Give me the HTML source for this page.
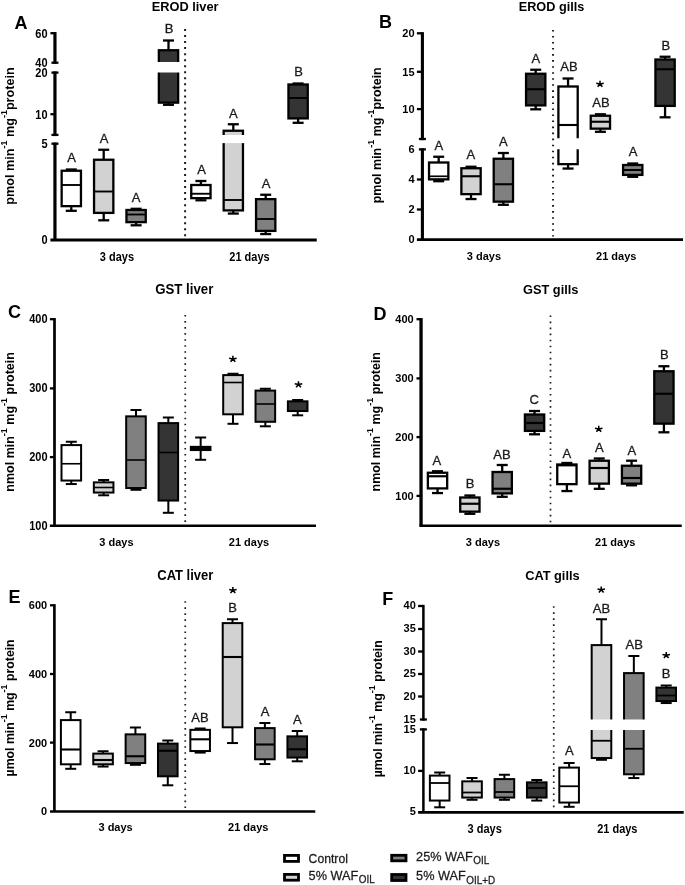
<!DOCTYPE html>
<html>
<head>
<meta charset="utf-8">
<title>Figure</title>
<style>
html,body{margin:0;padding:0;background:#fff;}
body{width:685px;height:885px;overflow:hidden;}
svg{display:block;font-family:"Liberation Sans",sans-serif;will-change:transform;}
svg line{stroke:#000;}
</style>
</head>
<body>
<svg width="685" height="885" viewBox="0 0 685 885">
<rect x="0" y="0" width="685" height="885" fill="#fff"/>
<line x1="54.95" y1="32.05" x2="54.95" y2="63.85" stroke-width="3.2" />
<line x1="50.4" y1="33.2" x2="54.95" y2="33.2" stroke-width="2.3" />
<text transform="translate(47.5,37.51) scale(1,1.14)" font-size="11" font-weight="bold" text-anchor="end" fill="#000" >60</text>
<line x1="51.45" y1="62.7" x2="58.45" y2="62.7" stroke-width="2.3" />
<text transform="translate(47.5,67.01) scale(1,1.14)" font-size="11" font-weight="bold" text-anchor="end" fill="#000" >40</text>
<line x1="54.95" y1="71.45" x2="54.95" y2="136.05" stroke-width="3.2" />
<line x1="51.45" y1="72.6" x2="58.45" y2="72.6" stroke-width="2.3" />
<text transform="translate(47.5,76.91) scale(1,1.14)" font-size="11" font-weight="bold" text-anchor="end" fill="#000" >20</text>
<line x1="50.4" y1="114.2" x2="54.95" y2="114.2" stroke-width="2.3" />
<text transform="translate(47.5,118.51) scale(1,1.14)" font-size="11" font-weight="bold" text-anchor="end" fill="#000" >10</text>
<line x1="51.45" y1="134.9" x2="58.45" y2="134.9" stroke-width="2.3" />
<line x1="54.95" y1="142.55" x2="54.95" y2="239.9" stroke-width="3.2" />
<line x1="51.45" y1="143.7" x2="58.45" y2="143.7" stroke-width="2.3" />
<text transform="translate(47.5,148.01) scale(1,1.14)" font-size="11" font-weight="bold" text-anchor="end" fill="#000" >5</text>
<text transform="translate(47.5,244.21) scale(1,1.14)" font-size="11" font-weight="bold" text-anchor="end" fill="#000" >0</text>
<line x1="50.4" y1="240" x2="316.75" y2="240" stroke-width="3" />
<line x1="71.3" y1="169.5" x2="71.3" y2="170.6" stroke-width="2.3" />
<line x1="65.8" y1="169.5" x2="76.8" y2="169.5" stroke-width="2.3" />
<line x1="71.3" y1="206.3" x2="71.3" y2="210.8" stroke-width="2.3" />
<line x1="65.8" y1="210.8" x2="76.8" y2="210.8" stroke-width="2.3" />
<rect x="61.65" y="170.75" width="19.3" height="35.4" fill="#ffffff" stroke="#000" stroke-width="2.3"/>
<line x1="61.5" y1="185" x2="81.1" y2="185" stroke-width="1.9" />
<line x1="103.7" y1="149.75" x2="103.7" y2="159.6" stroke-width="2.3" />
<line x1="98.2" y1="149.75" x2="109.2" y2="149.75" stroke-width="2.3" />
<line x1="103.7" y1="213.05" x2="103.7" y2="220.3" stroke-width="2.3" />
<line x1="98.2" y1="220.3" x2="109.2" y2="220.3" stroke-width="2.3" />
<rect x="94.05" y="159.75" width="19.3" height="53.15" fill="#d2d2d2" stroke="#000" stroke-width="2.3"/>
<line x1="93.9" y1="191.5" x2="113.5" y2="191.5" stroke-width="1.9" />
<line x1="136.1" y1="208.8" x2="136.1" y2="209.85" stroke-width="2.3" />
<line x1="130.6" y1="208.8" x2="141.6" y2="208.8" stroke-width="2.3" />
<line x1="136.1" y1="222.3" x2="136.1" y2="225.3" stroke-width="2.3" />
<line x1="130.6" y1="225.3" x2="141.6" y2="225.3" stroke-width="2.3" />
<rect x="126.45" y="210" width="19.3" height="12.15" fill="#808080" stroke="#000" stroke-width="2.3"/>
<line x1="126.3" y1="214.5" x2="145.9" y2="214.5" stroke-width="1.9" />
<line x1="168.5" y1="40.5" x2="168.5" y2="50.1" stroke-width="2.3" />
<line x1="163" y1="40.5" x2="174" y2="40.5" stroke-width="2.3" />
<line x1="168.5" y1="102.8" x2="168.5" y2="104.8" stroke-width="2.3" />
<line x1="163" y1="104.8" x2="174" y2="104.8" stroke-width="2.3" />
<rect x="158.85" y="50.25" width="19.3" height="52.4" fill="#343434" stroke="#000" stroke-width="2.3"/>
<rect x="156.7" y="62" width="23.6" height="10.5" fill="#fff" stroke="none"/>
<line x1="200.9" y1="181" x2="200.9" y2="184.85" stroke-width="2.3" />
<line x1="195.4" y1="181" x2="206.4" y2="181" stroke-width="2.3" />
<line x1="200.9" y1="198.3" x2="200.9" y2="200.3" stroke-width="2.3" />
<line x1="195.4" y1="200.3" x2="206.4" y2="200.3" stroke-width="2.3" />
<rect x="191.25" y="185" width="19.3" height="13.15" fill="#ffffff" stroke="#000" stroke-width="2.3"/>
<line x1="191.1" y1="193.75" x2="210.7" y2="193.75" stroke-width="1.9" />
<line x1="233.3" y1="124.25" x2="233.3" y2="130.6" stroke-width="2.3" />
<line x1="227.8" y1="124.25" x2="238.8" y2="124.25" stroke-width="2.3" />
<line x1="233.3" y1="210.55" x2="233.3" y2="213.55" stroke-width="2.3" />
<line x1="227.8" y1="213.55" x2="238.8" y2="213.55" stroke-width="2.3" />
<rect x="223.65" y="130.75" width="19.3" height="79.65" fill="#d2d2d2" stroke="#000" stroke-width="2.3"/>
<line x1="223.5" y1="200" x2="243.1" y2="200" stroke-width="1.9" />
<rect x="221.5" y="135" width="23.6" height="8.1" fill="#fff" stroke="none"/>
<line x1="265.7" y1="194.75" x2="265.7" y2="199" stroke-width="2.3" />
<line x1="260.2" y1="194.75" x2="271.2" y2="194.75" stroke-width="2.3" />
<line x1="265.7" y1="231.05" x2="265.7" y2="234.05" stroke-width="2.3" />
<line x1="260.2" y1="234.05" x2="271.2" y2="234.05" stroke-width="2.3" />
<rect x="256.05" y="199.15" width="19.3" height="31.75" fill="#808080" stroke="#000" stroke-width="2.3"/>
<line x1="255.9" y1="219" x2="275.5" y2="219" stroke-width="1.9" />
<line x1="298.1" y1="83.5" x2="298.1" y2="84.35" stroke-width="2.3" />
<line x1="292.6" y1="83.5" x2="303.6" y2="83.5" stroke-width="2.3" />
<line x1="298.1" y1="118.55" x2="298.1" y2="122.8" stroke-width="2.3" />
<line x1="292.6" y1="122.8" x2="303.6" y2="122.8" stroke-width="2.3" />
<rect x="288.45" y="84.5" width="19.3" height="33.9" fill="#343434" stroke="#000" stroke-width="2.3"/>
<line x1="288.3" y1="98" x2="307.9" y2="98" stroke-width="1.9" />
<line x1="185.1" y1="29" x2="185.1" y2="236.5" stroke-width="2" stroke-dasharray="2 4.04" style="stroke:#1c1c1c"/>
<text transform="translate(169,32.7) scale(1,1.0)" font-size="13" font-weight="normal" text-anchor="middle" fill="#1a1a1a" stroke="#1a1a1a" stroke-width="0.3">B</text>
<text transform="translate(71.6,162) scale(1,1.0)" font-size="13" font-weight="normal" text-anchor="middle" fill="#1a1a1a" stroke="#1a1a1a" stroke-width="0.3">A</text>
<text transform="translate(104.2,143) scale(1,1.0)" font-size="13" font-weight="normal" text-anchor="middle" fill="#1a1a1a" stroke="#1a1a1a" stroke-width="0.3">A</text>
<text transform="translate(136.2,202.2) scale(1,1.0)" font-size="13" font-weight="normal" text-anchor="middle" fill="#1a1a1a" stroke="#1a1a1a" stroke-width="0.3">A</text>
<text transform="translate(201.5,174.25) scale(1,1.0)" font-size="13" font-weight="normal" text-anchor="middle" fill="#1a1a1a" stroke="#1a1a1a" stroke-width="0.3">A</text>
<text transform="translate(233.4,117.75) scale(1,1.0)" font-size="13" font-weight="normal" text-anchor="middle" fill="#1a1a1a" stroke="#1a1a1a" stroke-width="0.3">A</text>
<text transform="translate(266,188) scale(1,1.0)" font-size="13" font-weight="normal" text-anchor="middle" fill="#1a1a1a" stroke="#1a1a1a" stroke-width="0.3">A</text>
<text transform="translate(298.5,75.75) scale(1,1.0)" font-size="13" font-weight="normal" text-anchor="middle" fill="#1a1a1a" stroke="#1a1a1a" stroke-width="0.3">B</text>
<text transform="translate(185.1,10.5) scale(1,1.07)" font-size="12.8" font-weight="bold" text-anchor="middle" fill="#000" >EROD liver</text>
<text transform="translate(116.9,260.55) scale(1,1.09)" font-size="11" font-weight="bold" text-anchor="middle" fill="#000" >3 days</text>
<text transform="translate(249.5,260.55) scale(1,1.09)" font-size="11" font-weight="bold" text-anchor="middle" fill="#000" >21 days</text>
<text transform="translate(14.6,28.8) scale(1,1.0)" font-size="18" font-weight="bold" text-anchor="start" fill="#000" >A</text>
<text transform="translate(14.3,136) rotate(-90) scale(1,1.03)" font-size="12.65" font-weight="bold" text-anchor="middle" fill="#000">pmol min<tspan font-size="9" dy="-6.8">-1</tspan><tspan dy="6.8"> mg</tspan><tspan font-size="9" dy="-6.8">-1</tspan><tspan dy="6.8">protein</tspan></text>
<line x1="422.4" y1="32.15" x2="422.4" y2="140.15" stroke-width="3.1" />
<line x1="416.9" y1="33.3" x2="422.4" y2="33.3" stroke-width="2.3" />
<text transform="translate(414.6,37.08) scale(1,1.0)" font-size="11" font-weight="bold" text-anchor="end" fill="#000" >20</text>
<line x1="416.9" y1="71.8" x2="422.4" y2="71.8" stroke-width="2.3" />
<text transform="translate(414.6,75.58) scale(1,1.0)" font-size="11" font-weight="bold" text-anchor="end" fill="#000" >15</text>
<line x1="416.9" y1="109.1" x2="422.4" y2="109.1" stroke-width="2.3" />
<text transform="translate(414.6,112.88) scale(1,1.0)" font-size="11" font-weight="bold" text-anchor="end" fill="#000" >10</text>
<line x1="418.9" y1="139" x2="425.9" y2="139" stroke-width="2.3" />
<line x1="422.4" y1="148.25" x2="422.4" y2="239.6" stroke-width="3.1" />
<line x1="418.9" y1="149.4" x2="425.9" y2="149.4" stroke-width="2.3" />
<text transform="translate(414.6,153.18) scale(1,1.0)" font-size="11" font-weight="bold" text-anchor="end" fill="#000" >6</text>
<line x1="416.9" y1="179.5" x2="422.4" y2="179.5" stroke-width="2.3" />
<text transform="translate(414.6,183.28) scale(1,1.0)" font-size="11" font-weight="bold" text-anchor="end" fill="#000" >4</text>
<line x1="416.9" y1="209.5" x2="422.4" y2="209.5" stroke-width="2.3" />
<text transform="translate(414.6,213.28) scale(1,1.0)" font-size="11" font-weight="bold" text-anchor="end" fill="#000" >2</text>
<text transform="translate(414.6,243.38) scale(1,1.0)" font-size="11" font-weight="bold" text-anchor="end" fill="#000" >0</text>
<line x1="416.9" y1="239.6" x2="683" y2="239.6" stroke-width="2.6" />
<line x1="438.69" y1="156.75" x2="438.69" y2="162.35" stroke-width="2.3" />
<line x1="433.19" y1="156.75" x2="444.19" y2="156.75" stroke-width="2.3" />
<line x1="438.69" y1="179.5" x2="438.69" y2="181.2" stroke-width="2.3" />
<line x1="433.19" y1="181.2" x2="444.19" y2="181.2" stroke-width="2.3" />
<rect x="429.04" y="162.5" width="19.3" height="16.85" fill="#ffffff" stroke="#000" stroke-width="2.3"/>
<line x1="428.89" y1="176.3" x2="448.49" y2="176.3" stroke-width="1.7" />
<line x1="471.03" y1="166.75" x2="471.03" y2="168.1" stroke-width="2.3" />
<line x1="465.53" y1="166.75" x2="476.53" y2="166.75" stroke-width="2.3" />
<line x1="471.03" y1="194.3" x2="471.03" y2="199.05" stroke-width="2.3" />
<line x1="465.53" y1="199.05" x2="476.53" y2="199.05" stroke-width="2.3" />
<rect x="461.38" y="168.25" width="19.3" height="25.9" fill="#d2d2d2" stroke="#000" stroke-width="2.3"/>
<line x1="461.23" y1="176.25" x2="480.83" y2="176.25" stroke-width="2.1" />
<line x1="503.37" y1="153" x2="503.37" y2="158.6" stroke-width="2.3" />
<line x1="497.87" y1="153" x2="508.87" y2="153" stroke-width="2.3" />
<line x1="503.37" y1="201.8" x2="503.37" y2="204.8" stroke-width="2.3" />
<line x1="497.87" y1="204.8" x2="508.87" y2="204.8" stroke-width="2.3" />
<rect x="493.72" y="158.75" width="19.3" height="42.9" fill="#808080" stroke="#000" stroke-width="2.3"/>
<line x1="493.57" y1="184.25" x2="513.17" y2="184.25" stroke-width="2.1" />
<line x1="535.71" y1="69.75" x2="535.71" y2="73.6" stroke-width="2.3" />
<line x1="530.21" y1="69.75" x2="541.21" y2="69.75" stroke-width="2.3" />
<line x1="535.71" y1="105.55" x2="535.71" y2="109.3" stroke-width="2.3" />
<line x1="530.21" y1="109.3" x2="541.21" y2="109.3" stroke-width="2.3" />
<rect x="526.06" y="73.75" width="19.3" height="31.65" fill="#343434" stroke="#000" stroke-width="2.3"/>
<line x1="525.91" y1="89.25" x2="545.51" y2="89.25" stroke-width="2.1" />
<line x1="568.05" y1="78.5" x2="568.05" y2="86.35" stroke-width="2.3" />
<line x1="562.55" y1="78.5" x2="573.55" y2="78.5" stroke-width="2.3" />
<line x1="568.05" y1="164.3" x2="568.05" y2="168.55" stroke-width="2.3" />
<line x1="562.55" y1="168.55" x2="573.55" y2="168.55" stroke-width="2.3" />
<rect x="558.4" y="86.5" width="19.3" height="77.65" fill="#ffffff" stroke="#000" stroke-width="2.3"/>
<line x1="558.25" y1="125" x2="577.85" y2="125" stroke-width="2.1" />
<rect x="556.25" y="138.25" width="23.6" height="11" fill="#fff" stroke="none"/>
<line x1="600.39" y1="114.25" x2="600.39" y2="115.6" stroke-width="2.3" />
<line x1="594.89" y1="114.25" x2="605.89" y2="114.25" stroke-width="2.3" />
<line x1="600.39" y1="128.8" x2="600.39" y2="131.8" stroke-width="2.3" />
<line x1="594.89" y1="131.8" x2="605.89" y2="131.8" stroke-width="2.3" />
<rect x="590.74" y="115.75" width="19.3" height="12.9" fill="#d2d2d2" stroke="#000" stroke-width="2.3"/>
<line x1="590.59" y1="121.75" x2="610.19" y2="121.75" stroke-width="2.1" />
<line x1="632.73" y1="163.5" x2="632.73" y2="164.85" stroke-width="2.3" />
<line x1="627.23" y1="163.5" x2="638.23" y2="163.5" stroke-width="2.3" />
<line x1="632.73" y1="175.05" x2="632.73" y2="176.8" stroke-width="2.3" />
<line x1="627.23" y1="176.8" x2="638.23" y2="176.8" stroke-width="2.3" />
<rect x="623.08" y="165" width="19.3" height="9.9" fill="#808080" stroke="#000" stroke-width="2.3"/>
<line x1="622.93" y1="170" x2="642.53" y2="170" stroke-width="2.1" />
<line x1="665.07" y1="56.75" x2="665.07" y2="59.35" stroke-width="2.3" />
<line x1="659.57" y1="56.75" x2="670.57" y2="56.75" stroke-width="2.3" />
<line x1="665.07" y1="106.05" x2="665.07" y2="117.3" stroke-width="2.3" />
<line x1="659.57" y1="117.3" x2="670.57" y2="117.3" stroke-width="2.3" />
<rect x="655.42" y="59.5" width="19.3" height="46.4" fill="#343434" stroke="#000" stroke-width="2.3"/>
<line x1="655.27" y1="69.25" x2="674.87" y2="69.25" stroke-width="2.1" />
<line x1="553.05" y1="29.9" x2="553.05" y2="236.5" stroke-width="2" stroke-dasharray="1.6 4.44" style="stroke:#1c1c1c"/>
<text transform="translate(438.9,149.5) scale(1,1.0)" font-size="13" font-weight="normal" text-anchor="middle" fill="#1a1a1a" stroke="#1a1a1a" stroke-width="0.3">A</text>
<text transform="translate(470.9,159.25) scale(1,1.0)" font-size="13" font-weight="normal" text-anchor="middle" fill="#1a1a1a" stroke="#1a1a1a" stroke-width="0.3">A</text>
<text transform="translate(503.3,146.25) scale(1,1.0)" font-size="13" font-weight="normal" text-anchor="middle" fill="#1a1a1a" stroke="#1a1a1a" stroke-width="0.3">A</text>
<text transform="translate(535.9,62.5) scale(1,1.0)" font-size="13" font-weight="normal" text-anchor="middle" fill="#1a1a1a" stroke="#1a1a1a" stroke-width="0.3">A</text>
<text transform="translate(569,71.25) scale(1,1.0)" font-size="13" font-weight="normal" text-anchor="middle" fill="#1a1a1a" stroke="#1a1a1a" stroke-width="0.3">AB</text>
<text transform="translate(600.9,107) scale(1,1.0)" font-size="13" font-weight="normal" text-anchor="middle" fill="#1a1a1a" stroke="#1a1a1a" stroke-width="0.3">AB</text>
<text transform="translate(633,156.25) scale(1,1.0)" font-size="13" font-weight="normal" text-anchor="middle" fill="#1a1a1a" stroke="#1a1a1a" stroke-width="0.3">A</text>
<text transform="translate(665.75,49.5) scale(1,1.0)" font-size="13" font-weight="normal" text-anchor="middle" fill="#1a1a1a" stroke="#1a1a1a" stroke-width="0.3">B</text>
<path d="M600 83.9L600 80.8M600 83.9L596.25 83.15M600 83.9L603.75 83.15M600 83.9L597.65 86.85M600 83.9L602.35 86.85" stroke="#000" stroke-width="1.55" fill="none" stroke-linecap="butt"/>
<text transform="translate(551.5,10.9) scale(1,1.07)" font-size="12.7" font-weight="bold" text-anchor="middle" fill="#000" >EROD gills</text>
<text transform="translate(483.9,259.7) scale(1,1.0)" font-size="11" font-weight="bold" text-anchor="middle" fill="#000" >3 days</text>
<text transform="translate(616.25,259.7) scale(1,1.0)" font-size="11" font-weight="bold" text-anchor="middle" fill="#000" >21 days</text>
<text transform="translate(378.9,27.6) scale(1,1.0)" font-size="18" font-weight="bold" text-anchor="start" fill="#000" >B</text>
<text transform="translate(381,135.25) rotate(-90) scale(1,1.03)" font-size="12.5" font-weight="bold" text-anchor="middle" fill="#000">pmol min<tspan font-size="9" dy="-6.8">-1</tspan><tspan dy="6.8"> mg</tspan><tspan font-size="9" dy="-6.8">-1</tspan><tspan dy="6.8">protein</tspan></text>
<line x1="54.5" y1="318.05" x2="54.5" y2="525.7" stroke-width="2.7" />
<line x1="49.9" y1="319.2" x2="54.5" y2="319.2" stroke-width="2.3" />
<text transform="translate(47.5,323.29) scale(1,1.08)" font-size="11" font-weight="bold" text-anchor="end" fill="#000" >400</text>
<line x1="49.9" y1="388.4" x2="54.5" y2="388.4" stroke-width="2.3" />
<text transform="translate(47.5,392.49) scale(1,1.08)" font-size="11" font-weight="bold" text-anchor="end" fill="#000" >300</text>
<line x1="49.9" y1="457.1" x2="54.5" y2="457.1" stroke-width="2.3" />
<text transform="translate(47.5,461.19) scale(1,1.08)" font-size="11" font-weight="bold" text-anchor="end" fill="#000" >200</text>
<text transform="translate(47.5,529.79) scale(1,1.08)" font-size="11" font-weight="bold" text-anchor="end" fill="#000" >100</text>
<line x1="49.9" y1="525.75" x2="316" y2="525.75" stroke-width="2.7" />
<line x1="71.3" y1="441.75" x2="71.3" y2="445.1" stroke-width="2" />
<line x1="65.8" y1="441.75" x2="76.8" y2="441.75" stroke-width="2" />
<line x1="71.3" y1="480.55" x2="71.3" y2="484.05" stroke-width="2" />
<line x1="65.8" y1="484.05" x2="76.8" y2="484.05" stroke-width="2" />
<rect x="61.5" y="445.1" width="19.6" height="35.45" fill="#ffffff" stroke="#000" stroke-width="2"/>
<line x1="61.5" y1="463.75" x2="81.1" y2="463.75" stroke-width="1.6" />
<line x1="103.64" y1="480" x2="103.64" y2="482.35" stroke-width="2" />
<line x1="98.14" y1="480" x2="109.14" y2="480" stroke-width="2" />
<line x1="103.64" y1="492.55" x2="103.64" y2="495.3" stroke-width="2" />
<line x1="98.14" y1="495.3" x2="109.14" y2="495.3" stroke-width="2" />
<rect x="93.84" y="482.35" width="19.6" height="10.2" fill="#d2d2d2" stroke="#000" stroke-width="2"/>
<line x1="93.84" y1="487.5" x2="113.44" y2="487.5" stroke-width="1.6" />
<line x1="135.98" y1="410" x2="135.98" y2="416.35" stroke-width="2" />
<line x1="130.48" y1="410" x2="141.48" y2="410" stroke-width="2" />
<line x1="135.98" y1="488.05" x2="135.98" y2="489.8" stroke-width="2" />
<line x1="130.48" y1="489.8" x2="141.48" y2="489.8" stroke-width="2" />
<rect x="126.18" y="416.35" width="19.6" height="71.7" fill="#808080" stroke="#000" stroke-width="2"/>
<line x1="126.18" y1="460" x2="145.78" y2="460" stroke-width="1.6" />
<line x1="168.32" y1="417.5" x2="168.32" y2="423.1" stroke-width="2" />
<line x1="162.82" y1="417.5" x2="173.82" y2="417.5" stroke-width="2" />
<line x1="168.32" y1="500.55" x2="168.32" y2="512.8" stroke-width="2" />
<line x1="162.82" y1="512.8" x2="173.82" y2="512.8" stroke-width="2" />
<rect x="158.52" y="423.1" width="19.6" height="77.45" fill="#343434" stroke="#000" stroke-width="2"/>
<line x1="158.52" y1="452.5" x2="178.12" y2="452.5" stroke-width="1.6" />
<line x1="200.66" y1="437.5" x2="200.66" y2="446.85" stroke-width="2" />
<line x1="195.16" y1="437.5" x2="206.16" y2="437.5" stroke-width="2" />
<line x1="200.66" y1="450.05" x2="200.66" y2="459.8" stroke-width="2" />
<line x1="195.16" y1="459.8" x2="206.16" y2="459.8" stroke-width="2" />
<rect x="190.86" y="446.85" width="19.6" height="3.2" fill="#000" stroke="#000" stroke-width="2"/>
<line x1="233" y1="373.75" x2="233" y2="375.1" stroke-width="2" />
<line x1="227.5" y1="373.75" x2="238.5" y2="373.75" stroke-width="2" />
<line x1="233" y1="414.3" x2="233" y2="423.8" stroke-width="2" />
<line x1="227.5" y1="423.8" x2="238.5" y2="423.8" stroke-width="2" />
<rect x="223.2" y="375.1" width="19.6" height="39.2" fill="#d2d2d2" stroke="#000" stroke-width="2"/>
<line x1="223.2" y1="382.5" x2="242.8" y2="382.5" stroke-width="1.6" />
<line x1="265.34" y1="388.75" x2="265.34" y2="390.6" stroke-width="2" />
<line x1="259.84" y1="388.75" x2="270.84" y2="388.75" stroke-width="2" />
<line x1="265.34" y1="421.8" x2="265.34" y2="426.3" stroke-width="2" />
<line x1="259.84" y1="426.3" x2="270.84" y2="426.3" stroke-width="2" />
<rect x="255.54" y="390.6" width="19.6" height="31.2" fill="#808080" stroke="#000" stroke-width="2"/>
<line x1="255.54" y1="404" x2="275.14" y2="404" stroke-width="1.6" />
<line x1="297.68" y1="400" x2="297.68" y2="401.35" stroke-width="2" />
<line x1="292.18" y1="400" x2="303.18" y2="400" stroke-width="2" />
<line x1="297.68" y1="411.05" x2="297.68" y2="415.3" stroke-width="2" />
<line x1="292.18" y1="415.3" x2="303.18" y2="415.3" stroke-width="2" />
<rect x="287.88" y="401.35" width="19.6" height="9.7" fill="#343434" stroke="#000" stroke-width="2"/>
<line x1="185.25" y1="315" x2="185.25" y2="522.3" stroke-width="1.7" stroke-dasharray="1.6 4.44" style="stroke:#1c1c1c"/>
<path d="M232.9 358.9L232.9 355.8M232.9 358.9L229.15 358.15M232.9 358.9L236.65 358.15M232.9 358.9L230.55 361.85M232.9 358.9L235.25 361.85" stroke="#000" stroke-width="1.55" fill="none" stroke-linecap="butt"/>
<path d="M298.5 384.4L298.5 381.3M298.5 384.4L294.75 383.65M298.5 384.4L302.25 383.65M298.5 384.4L296.15 387.35M298.5 384.4L300.85 387.35" stroke="#000" stroke-width="1.55" fill="none" stroke-linecap="butt"/>
<text transform="translate(184.2,293.6) scale(1,1.07)" font-size="13.25" font-weight="bold" text-anchor="middle" fill="#000" >GST liver</text>
<text transform="translate(116.4,545.85) scale(1,1.03)" font-size="11" font-weight="bold" text-anchor="middle" fill="#000" >3 days</text>
<text transform="translate(249,545.85) scale(1,1.03)" font-size="11" font-weight="bold" text-anchor="middle" fill="#000" >21 days</text>
<text transform="translate(8.1,318) scale(1,1.0)" font-size="18" font-weight="bold" text-anchor="start" fill="#000" >C</text>
<text transform="translate(14.3,421.9) rotate(-90) scale(1,1.03)" font-size="12.5" font-weight="bold" text-anchor="middle" fill="#000">nmol min<tspan font-size="9" dy="-6.8">-1</tspan><tspan dy="6.8"> mg</tspan><tspan font-size="9" dy="-6.8">-1</tspan><tspan dy="6.8"> protein</tspan></text>
<line x1="421.05" y1="318.05" x2="421.05" y2="525.7" stroke-width="3.3" />
<line x1="416.5" y1="319.2" x2="421.05" y2="319.2" stroke-width="2.3" />
<text transform="translate(413.7,323.25) scale(1,1.07)" font-size="11" font-weight="bold" text-anchor="end" fill="#000" >400</text>
<line x1="416.5" y1="378.4" x2="421.05" y2="378.4" stroke-width="2.3" />
<text transform="translate(413.7,382.45) scale(1,1.07)" font-size="11" font-weight="bold" text-anchor="end" fill="#000" >300</text>
<line x1="416.5" y1="437.1" x2="421.05" y2="437.1" stroke-width="2.3" />
<text transform="translate(413.7,441.15) scale(1,1.07)" font-size="11" font-weight="bold" text-anchor="end" fill="#000" >200</text>
<line x1="416.5" y1="495.9" x2="421.05" y2="495.9" stroke-width="2.3" />
<text transform="translate(413.7,499.95) scale(1,1.07)" font-size="11" font-weight="bold" text-anchor="end" fill="#000" >100</text>
<line x1="419.4" y1="525.7" x2="681.75" y2="525.7" stroke-width="2.6" />
<line x1="437.53" y1="471.25" x2="437.53" y2="472.6" stroke-width="2.3" />
<line x1="432.03" y1="471.25" x2="443.03" y2="471.25" stroke-width="2.3" />
<line x1="437.53" y1="488.55" x2="437.53" y2="493.05" stroke-width="2.3" />
<line x1="432.03" y1="493.05" x2="443.03" y2="493.05" stroke-width="2.3" />
<rect x="427.88" y="472.75" width="19.3" height="15.65" fill="#ffffff" stroke="#000" stroke-width="2.3"/>
<line x1="427.73" y1="476.25" x2="447.33" y2="476.25" stroke-width="2.2" />
<line x1="469.87" y1="495.5" x2="469.87" y2="497.35" stroke-width="2.3" />
<line x1="464.37" y1="495.5" x2="475.37" y2="495.5" stroke-width="2.3" />
<line x1="469.87" y1="511.8" x2="469.87" y2="513.8" stroke-width="2.3" />
<line x1="464.37" y1="513.8" x2="475.37" y2="513.8" stroke-width="2.3" />
<rect x="460.22" y="497.5" width="19.3" height="14.15" fill="#d2d2d2" stroke="#000" stroke-width="2.3"/>
<line x1="460.07" y1="503.75" x2="479.67" y2="503.75" stroke-width="2.2" />
<line x1="502.21" y1="465" x2="502.21" y2="471.85" stroke-width="2.3" />
<line x1="496.71" y1="465" x2="507.71" y2="465" stroke-width="2.3" />
<line x1="502.21" y1="493.55" x2="502.21" y2="496.8" stroke-width="2.3" />
<line x1="496.71" y1="496.8" x2="507.71" y2="496.8" stroke-width="2.3" />
<rect x="492.56" y="472" width="19.3" height="21.4" fill="#808080" stroke="#000" stroke-width="2.3"/>
<line x1="492.41" y1="488.75" x2="512.01" y2="488.75" stroke-width="2.2" />
<line x1="534.55" y1="411" x2="534.55" y2="414.35" stroke-width="2.3" />
<line x1="529.05" y1="411" x2="540.05" y2="411" stroke-width="2.3" />
<line x1="534.55" y1="431.05" x2="534.55" y2="434.3" stroke-width="2.3" />
<line x1="529.05" y1="434.3" x2="540.05" y2="434.3" stroke-width="2.3" />
<rect x="524.9" y="414.5" width="19.3" height="16.4" fill="#343434" stroke="#000" stroke-width="2.3"/>
<line x1="524.75" y1="423" x2="544.35" y2="423" stroke-width="2.2" />
<line x1="566.89" y1="463" x2="566.89" y2="464.35" stroke-width="2.3" />
<line x1="561.39" y1="463" x2="572.39" y2="463" stroke-width="2.3" />
<line x1="566.89" y1="484.3" x2="566.89" y2="491.05" stroke-width="2.3" />
<line x1="561.39" y1="491.05" x2="572.39" y2="491.05" stroke-width="2.3" />
<rect x="557.24" y="464.5" width="19.3" height="19.65" fill="#ffffff" stroke="#000" stroke-width="2.3"/>
<line x1="557.09" y1="465.3" x2="576.69" y2="465.3" stroke-width="2.2" />
<line x1="599.23" y1="458.5" x2="599.23" y2="460.6" stroke-width="2.3" />
<line x1="593.73" y1="458.5" x2="604.73" y2="458.5" stroke-width="2.3" />
<line x1="599.23" y1="483.8" x2="599.23" y2="488.8" stroke-width="2.3" />
<line x1="593.73" y1="488.8" x2="604.73" y2="488.8" stroke-width="2.3" />
<rect x="589.58" y="460.75" width="19.3" height="22.9" fill="#d2d2d2" stroke="#000" stroke-width="2.3"/>
<line x1="589.43" y1="468" x2="609.03" y2="468" stroke-width="2.2" />
<line x1="631.57" y1="460.7" x2="631.57" y2="465.6" stroke-width="2.3" />
<line x1="626.07" y1="460.7" x2="637.07" y2="460.7" stroke-width="2.3" />
<line x1="631.57" y1="483.8" x2="631.57" y2="485.3" stroke-width="2.3" />
<line x1="626.07" y1="485.3" x2="637.07" y2="485.3" stroke-width="2.3" />
<rect x="621.92" y="465.75" width="19.3" height="17.9" fill="#808080" stroke="#000" stroke-width="2.3"/>
<line x1="621.77" y1="478" x2="641.37" y2="478" stroke-width="2.2" />
<line x1="663.91" y1="366.25" x2="663.91" y2="371.1" stroke-width="2.3" />
<line x1="658.41" y1="366.25" x2="669.41" y2="366.25" stroke-width="2.3" />
<line x1="663.91" y1="423.8" x2="663.91" y2="432.3" stroke-width="2.3" />
<line x1="658.41" y1="432.3" x2="669.41" y2="432.3" stroke-width="2.3" />
<rect x="654.26" y="371.25" width="19.3" height="52.4" fill="#343434" stroke="#000" stroke-width="2.3"/>
<line x1="654.11" y1="393.75" x2="673.71" y2="393.75" stroke-width="2.2" />
<line x1="550.5" y1="315.5" x2="550.5" y2="522.3" stroke-width="1.7" stroke-dasharray="1.6 4.44" style="stroke:#1c1c1c"/>
<text transform="translate(436.9,464.5) scale(1,1.0)" font-size="13" font-weight="normal" text-anchor="middle" fill="#1a1a1a" stroke="#1a1a1a" stroke-width="0.3">A</text>
<text transform="translate(470.1,488) scale(1,1.0)" font-size="13" font-weight="normal" text-anchor="middle" fill="#1a1a1a" stroke="#1a1a1a" stroke-width="0.3">B</text>
<text transform="translate(501.9,459.25) scale(1,1.0)" font-size="13" font-weight="normal" text-anchor="middle" fill="#1a1a1a" stroke="#1a1a1a" stroke-width="0.3">AB</text>
<text transform="translate(534.1,403.75) scale(1,1.0)" font-size="13" font-weight="normal" text-anchor="middle" fill="#1a1a1a" stroke="#1a1a1a" stroke-width="0.3">C</text>
<text transform="translate(566.9,457.5) scale(1,1.0)" font-size="13" font-weight="normal" text-anchor="middle" fill="#1a1a1a" stroke="#1a1a1a" stroke-width="0.3">A</text>
<text transform="translate(599.25,452) scale(1,1.0)" font-size="13" font-weight="normal" text-anchor="middle" fill="#1a1a1a" stroke="#1a1a1a" stroke-width="0.3">A</text>
<text transform="translate(631.75,455) scale(1,1.0)" font-size="13" font-weight="normal" text-anchor="middle" fill="#1a1a1a" stroke="#1a1a1a" stroke-width="0.3">A</text>
<text transform="translate(664.25,358.75) scale(1,1.0)" font-size="13" font-weight="normal" text-anchor="middle" fill="#1a1a1a" stroke="#1a1a1a" stroke-width="0.3">B</text>
<path d="M598.75 428.9L598.75 425.8M598.75 428.9L595 428.15M598.75 428.9L602.5 428.15M598.75 428.9L596.4 431.85M598.75 428.9L601.1 431.85" stroke="#000" stroke-width="1.55" fill="none" stroke-linecap="butt"/>
<text transform="translate(550.75,294.1) scale(1,1.07)" font-size="12.8" font-weight="bold" text-anchor="middle" fill="#000" >GST gills</text>
<text transform="translate(482.9,546) scale(1,1.0)" font-size="11" font-weight="bold" text-anchor="middle" fill="#000" >3 days</text>
<text transform="translate(615.25,546) scale(1,1.0)" font-size="11" font-weight="bold" text-anchor="middle" fill="#000" >21 days</text>
<text transform="translate(373.5,320.1) scale(1,1.0)" font-size="18" font-weight="bold" text-anchor="start" fill="#000" >D</text>
<text transform="translate(380,421.75) rotate(-90) scale(1,1.03)" font-size="12.5" font-weight="bold" text-anchor="middle" fill="#000">nmol min<tspan font-size="9" dy="-6.8">-1</tspan><tspan dy="6.8"> mg</tspan><tspan font-size="9" dy="-6.8">-1</tspan><tspan dy="6.8"> protein</tspan></text>
<line x1="54.4" y1="604.15" x2="54.4" y2="811.3" stroke-width="2.65" />
<line x1="50" y1="605.3" x2="54.4" y2="605.3" stroke-width="2.3" />
<text transform="translate(47.2,609.27) scale(1,1.05)" font-size="11" font-weight="bold" text-anchor="end" fill="#000" >600</text>
<line x1="50" y1="674" x2="54.4" y2="674" stroke-width="2.3" />
<text transform="translate(47.2,677.97) scale(1,1.05)" font-size="11" font-weight="bold" text-anchor="end" fill="#000" >400</text>
<line x1="50" y1="742.6" x2="54.4" y2="742.6" stroke-width="2.3" />
<text transform="translate(47.2,746.57) scale(1,1.05)" font-size="11" font-weight="bold" text-anchor="end" fill="#000" >200</text>
<text transform="translate(47.2,815.27) scale(1,1.05)" font-size="11" font-weight="bold" text-anchor="end" fill="#000" >0</text>
<line x1="50" y1="811.4" x2="315.25" y2="811.4" stroke-width="2.5" />
<line x1="70.71" y1="712.25" x2="70.71" y2="720.1" stroke-width="2" />
<line x1="65.21" y1="712.25" x2="76.21" y2="712.25" stroke-width="2" />
<line x1="70.71" y1="764.3" x2="70.71" y2="768.8" stroke-width="2" />
<line x1="65.21" y1="768.8" x2="76.21" y2="768.8" stroke-width="2" />
<rect x="60.91" y="720.1" width="19.6" height="44.2" fill="#ffffff" stroke="#000" stroke-width="2"/>
<line x1="60.91" y1="749.5" x2="80.51" y2="749.5" stroke-width="2.1" />
<line x1="103.07" y1="751.25" x2="103.07" y2="753.6" stroke-width="2" />
<line x1="97.57" y1="751.25" x2="108.57" y2="751.25" stroke-width="2" />
<line x1="103.07" y1="764.3" x2="103.07" y2="766.55" stroke-width="2" />
<line x1="97.57" y1="766.55" x2="108.57" y2="766.55" stroke-width="2" />
<rect x="93.27" y="753.6" width="19.6" height="10.7" fill="#d2d2d2" stroke="#000" stroke-width="2"/>
<line x1="93.27" y1="760" x2="112.87" y2="760" stroke-width="2.1" />
<line x1="135.43" y1="727.5" x2="135.43" y2="734.35" stroke-width="2" />
<line x1="129.93" y1="727.5" x2="140.93" y2="727.5" stroke-width="2" />
<line x1="135.43" y1="763.05" x2="135.43" y2="764.8" stroke-width="2" />
<line x1="129.93" y1="764.8" x2="140.93" y2="764.8" stroke-width="2" />
<rect x="125.63" y="734.35" width="19.6" height="28.7" fill="#808080" stroke="#000" stroke-width="2"/>
<line x1="125.63" y1="756.25" x2="145.23" y2="756.25" stroke-width="2.1" />
<line x1="167.79" y1="740.5" x2="167.79" y2="743.6" stroke-width="2" />
<line x1="162.29" y1="740.5" x2="173.29" y2="740.5" stroke-width="2" />
<line x1="167.79" y1="776.3" x2="167.79" y2="785.3" stroke-width="2" />
<line x1="162.29" y1="785.3" x2="173.29" y2="785.3" stroke-width="2" />
<rect x="157.99" y="743.6" width="19.6" height="32.7" fill="#343434" stroke="#000" stroke-width="2"/>
<line x1="157.99" y1="750.75" x2="177.59" y2="750.75" stroke-width="2.1" />
<line x1="200.15" y1="728.5" x2="200.15" y2="729.85" stroke-width="2" />
<line x1="194.65" y1="728.5" x2="205.65" y2="728.5" stroke-width="2" />
<line x1="200.15" y1="751.05" x2="200.15" y2="752.6" stroke-width="2" />
<line x1="194.65" y1="752.6" x2="205.65" y2="752.6" stroke-width="2" />
<rect x="190.35" y="729.85" width="19.6" height="21.2" fill="#ffffff" stroke="#000" stroke-width="2"/>
<line x1="190.35" y1="739.3" x2="209.95" y2="739.3" stroke-width="2.1" />
<line x1="232.51" y1="619.25" x2="232.51" y2="623.1" stroke-width="2" />
<line x1="227.01" y1="619.25" x2="238.01" y2="619.25" stroke-width="2" />
<line x1="232.51" y1="727.3" x2="232.51" y2="743.05" stroke-width="2" />
<line x1="227.01" y1="743.05" x2="238.01" y2="743.05" stroke-width="2" />
<rect x="222.71" y="623.1" width="19.6" height="104.2" fill="#d2d2d2" stroke="#000" stroke-width="2"/>
<line x1="222.71" y1="657" x2="242.31" y2="657" stroke-width="2.1" />
<line x1="264.87" y1="723" x2="264.87" y2="728.1" stroke-width="2" />
<line x1="259.37" y1="723" x2="270.37" y2="723" stroke-width="2" />
<line x1="264.87" y1="759.3" x2="264.87" y2="764.05" stroke-width="2" />
<line x1="259.37" y1="764.05" x2="270.37" y2="764.05" stroke-width="2" />
<rect x="255.07" y="728.1" width="19.6" height="31.2" fill="#808080" stroke="#000" stroke-width="2"/>
<line x1="255.07" y1="744.5" x2="274.67" y2="744.5" stroke-width="2.1" />
<line x1="297.23" y1="731" x2="297.23" y2="736.35" stroke-width="2" />
<line x1="291.73" y1="731" x2="302.73" y2="731" stroke-width="2" />
<line x1="297.23" y1="757.55" x2="297.23" y2="761.3" stroke-width="2" />
<line x1="291.73" y1="761.3" x2="302.73" y2="761.3" stroke-width="2" />
<rect x="287.43" y="736.35" width="19.6" height="21.2" fill="#343434" stroke="#000" stroke-width="2"/>
<line x1="287.43" y1="749.25" x2="307.03" y2="749.25" stroke-width="2.1" />
<line x1="185.25" y1="601.25" x2="185.25" y2="808" stroke-width="1.7" stroke-dasharray="1.6 4.44" style="stroke:#1c1c1c"/>
<text transform="translate(200,721.75) scale(1,1.0)" font-size="13" font-weight="normal" text-anchor="middle" fill="#1a1a1a" stroke="#1a1a1a" stroke-width="0.3">AB</text>
<text transform="translate(232.5,611.6) scale(1,1.0)" font-size="13" font-weight="normal" text-anchor="middle" fill="#1a1a1a" stroke="#1a1a1a" stroke-width="0.3">B</text>
<text transform="translate(265.1,716.25) scale(1,1.0)" font-size="13" font-weight="normal" text-anchor="middle" fill="#1a1a1a" stroke="#1a1a1a" stroke-width="0.3">A</text>
<text transform="translate(297.25,724.25) scale(1,1.0)" font-size="13" font-weight="normal" text-anchor="middle" fill="#1a1a1a" stroke="#1a1a1a" stroke-width="0.3">A</text>
<path d="M232.9 590.15L232.9 587.05M232.9 590.15L229.15 589.4M232.9 590.15L236.65 589.4M232.9 590.15L230.55 593.1M232.9 590.15L235.25 593.1" stroke="#000" stroke-width="1.55" fill="none" stroke-linecap="butt"/>
<text transform="translate(185.3,579.9) scale(1,1.07)" font-size="13" font-weight="bold" text-anchor="middle" fill="#000" >CAT liver</text>
<text transform="translate(115.6,831.15) scale(1,1.0)" font-size="11" font-weight="bold" text-anchor="middle" fill="#000" >3 days</text>
<text transform="translate(248.25,831.15) scale(1,1.0)" font-size="11" font-weight="bold" text-anchor="middle" fill="#000" >21 days</text>
<text transform="translate(8.4,603.2) scale(1,1.0)" font-size="18" font-weight="bold" text-anchor="start" fill="#000" >E</text>
<text transform="translate(13.6,707.9) rotate(-90) scale(1,1.03)" font-size="12.3" font-weight="bold" text-anchor="middle" fill="#000">µmol min<tspan font-size="9" dy="-6.8">-1</tspan><tspan dy="6.8"> mg</tspan><tspan font-size="9" dy="-6.8">-1</tspan><tspan dy="6.8"> protein</tspan></text>
<line x1="423.4" y1="604.85" x2="423.4" y2="720.65" stroke-width="2.5" />
<line x1="418.1" y1="606" x2="423.4" y2="606" stroke-width="2.3" />
<text transform="translate(415.8,609.22) scale(1,1.01)" font-size="11" font-weight="bold" text-anchor="end" fill="#000" >40</text>
<line x1="418.1" y1="629" x2="423.4" y2="629" stroke-width="2.3" />
<text transform="translate(415.8,632.22) scale(1,1.01)" font-size="11" font-weight="bold" text-anchor="end" fill="#000" >35</text>
<line x1="418.1" y1="651.5" x2="423.4" y2="651.5" stroke-width="2.3" />
<text transform="translate(415.8,654.72) scale(1,1.01)" font-size="11" font-weight="bold" text-anchor="end" fill="#000" >30</text>
<line x1="418.1" y1="674" x2="423.4" y2="674" stroke-width="2.3" />
<text transform="translate(415.8,677.22) scale(1,1.01)" font-size="11" font-weight="bold" text-anchor="end" fill="#000" >25</text>
<line x1="418.1" y1="696.5" x2="423.4" y2="696.5" stroke-width="2.3" />
<text transform="translate(415.8,699.72) scale(1,1.01)" font-size="11" font-weight="bold" text-anchor="end" fill="#000" >20</text>
<line x1="419.9" y1="719.5" x2="426.9" y2="719.5" stroke-width="2.3" />
<text transform="translate(415.8,722.72) scale(1,1.01)" font-size="11" font-weight="bold" text-anchor="end" fill="#000" >15</text>
<line x1="423.4" y1="728.25" x2="423.4" y2="812.2" stroke-width="2.5" />
<line x1="419.9" y1="729.4" x2="426.9" y2="729.4" stroke-width="2.3" />
<text transform="translate(415.8,732.62) scale(1,1.01)" font-size="11" font-weight="bold" text-anchor="end" fill="#000" >15</text>
<line x1="418.1" y1="770.9" x2="423.4" y2="770.9" stroke-width="2.3" />
<text transform="translate(415.8,774.12) scale(1,1.01)" font-size="11" font-weight="bold" text-anchor="end" fill="#000" >10</text>
<text transform="translate(415.8,815.42) scale(1,1.01)" font-size="11" font-weight="bold" text-anchor="end" fill="#000" >5</text>
<line x1="418.1" y1="812.3" x2="683.7" y2="812.3" stroke-width="2.8" />
<line x1="439.68" y1="772.5" x2="439.68" y2="775.6" stroke-width="2" />
<line x1="434.18" y1="772.5" x2="445.18" y2="772.5" stroke-width="2" />
<line x1="439.68" y1="800.55" x2="439.68" y2="807.3" stroke-width="2" />
<line x1="434.18" y1="807.3" x2="445.18" y2="807.3" stroke-width="2" />
<rect x="429.88" y="775.6" width="19.6" height="24.95" fill="#ffffff" stroke="#000" stroke-width="2"/>
<line x1="429.88" y1="783" x2="449.48" y2="783" stroke-width="1.8" />
<line x1="472.04" y1="778" x2="472.04" y2="781.35" stroke-width="2" />
<line x1="466.54" y1="778" x2="477.54" y2="778" stroke-width="2" />
<line x1="472.04" y1="797.55" x2="472.04" y2="799.8" stroke-width="2" />
<line x1="466.54" y1="799.8" x2="477.54" y2="799.8" stroke-width="2" />
<rect x="462.24" y="781.35" width="19.6" height="16.2" fill="#d2d2d2" stroke="#000" stroke-width="2"/>
<line x1="462.24" y1="792.5" x2="481.84" y2="792.5" stroke-width="1.8" />
<line x1="504.4" y1="774.75" x2="504.4" y2="779.1" stroke-width="2" />
<line x1="498.9" y1="774.75" x2="509.9" y2="774.75" stroke-width="2" />
<line x1="504.4" y1="797.55" x2="504.4" y2="799.8" stroke-width="2" />
<line x1="498.9" y1="799.8" x2="509.9" y2="799.8" stroke-width="2" />
<rect x="494.6" y="779.1" width="19.6" height="18.45" fill="#808080" stroke="#000" stroke-width="2"/>
<line x1="494.6" y1="792" x2="514.2" y2="792" stroke-width="1.8" />
<line x1="536.76" y1="780" x2="536.76" y2="782.35" stroke-width="2" />
<line x1="531.26" y1="780" x2="542.26" y2="780" stroke-width="2" />
<line x1="536.76" y1="797.55" x2="536.76" y2="800.55" stroke-width="2" />
<line x1="531.26" y1="800.55" x2="542.26" y2="800.55" stroke-width="2" />
<rect x="526.96" y="782.35" width="19.6" height="15.2" fill="#343434" stroke="#000" stroke-width="2"/>
<line x1="526.96" y1="788" x2="546.56" y2="788" stroke-width="1.8" />
<line x1="569.12" y1="763" x2="569.12" y2="767.6" stroke-width="2" />
<line x1="563.62" y1="763" x2="574.62" y2="763" stroke-width="2" />
<line x1="569.12" y1="802.55" x2="569.12" y2="806.8" stroke-width="2" />
<line x1="563.62" y1="806.8" x2="574.62" y2="806.8" stroke-width="2" />
<rect x="559.32" y="767.6" width="19.6" height="34.95" fill="#ffffff" stroke="#000" stroke-width="2"/>
<line x1="559.32" y1="786.25" x2="578.92" y2="786.25" stroke-width="1.8" />
<line x1="601.48" y1="619.25" x2="601.48" y2="645.1" stroke-width="2" />
<line x1="595.98" y1="619.25" x2="606.98" y2="619.25" stroke-width="2" />
<line x1="601.48" y1="758.05" x2="601.48" y2="759.8" stroke-width="2" />
<line x1="595.98" y1="759.8" x2="606.98" y2="759.8" stroke-width="2" />
<rect x="591.68" y="645.1" width="19.6" height="112.95" fill="#d2d2d2" stroke="#000" stroke-width="2"/>
<line x1="591.68" y1="740.75" x2="611.28" y2="740.75" stroke-width="1.8" />
<rect x="589.68" y="719.5" width="23.6" height="10.5" fill="#fff" stroke="none"/>
<line x1="633.84" y1="656" x2="633.84" y2="673.1" stroke-width="2" />
<line x1="628.34" y1="656" x2="639.34" y2="656" stroke-width="2" />
<line x1="633.84" y1="774.3" x2="633.84" y2="778.05" stroke-width="2" />
<line x1="628.34" y1="778.05" x2="639.34" y2="778.05" stroke-width="2" />
<rect x="624.04" y="673.1" width="19.6" height="101.2" fill="#808080" stroke="#000" stroke-width="2"/>
<line x1="624.04" y1="748.75" x2="643.64" y2="748.75" stroke-width="1.8" />
<rect x="622.04" y="719.5" width="23.6" height="10.5" fill="#fff" stroke="none"/>
<line x1="666.2" y1="685.5" x2="666.2" y2="687.6" stroke-width="2" />
<line x1="660.7" y1="685.5" x2="671.7" y2="685.5" stroke-width="2" />
<line x1="666.2" y1="701.05" x2="666.2" y2="703.05" stroke-width="2" />
<line x1="660.7" y1="703.05" x2="671.7" y2="703.05" stroke-width="2" />
<rect x="656.4" y="687.6" width="19.6" height="13.45" fill="#343434" stroke="#000" stroke-width="2"/>
<line x1="656.4" y1="695.5" x2="676" y2="695.5" stroke-width="1.8" />
<line x1="553.75" y1="606.25" x2="553.75" y2="807.5" stroke-width="1.7" stroke-dasharray="1.6 4.44" style="stroke:#1c1c1c"/>
<text transform="translate(569.25,755) scale(1,1.0)" font-size="13" font-weight="normal" text-anchor="middle" fill="#1a1a1a" stroke="#1a1a1a" stroke-width="0.3">A</text>
<text transform="translate(601.4,613) scale(1,1.0)" font-size="13" font-weight="normal" text-anchor="middle" fill="#1a1a1a" stroke="#1a1a1a" stroke-width="0.3">AB</text>
<text transform="translate(634.25,648.75) scale(1,1.0)" font-size="13" font-weight="normal" text-anchor="middle" fill="#1a1a1a" stroke="#1a1a1a" stroke-width="0.3">AB</text>
<text transform="translate(666.1,678) scale(1,1.0)" font-size="13" font-weight="normal" text-anchor="middle" fill="#1a1a1a" stroke="#1a1a1a" stroke-width="0.3">B</text>
<path d="M601.25 589.65L601.25 586.55M601.25 589.65L597.5 588.9M601.25 589.65L605 588.9M601.25 589.65L598.9 592.6M601.25 589.65L603.6 592.6" stroke="#000" stroke-width="1.55" fill="none" stroke-linecap="butt"/>
<path d="M666.25 655.15L666.25 652.05M666.25 655.15L662.5 654.4M666.25 655.15L670 654.4M666.25 655.15L663.9 658.1M666.25 655.15L668.6 658.1" stroke="#000" stroke-width="1.55" fill="none" stroke-linecap="butt"/>
<text transform="translate(552.4,580.2) scale(1,1.07)" font-size="12.8" font-weight="bold" text-anchor="middle" fill="#000" >CAT gills</text>
<text transform="translate(484.7,832.75) scale(1,1.09)" font-size="11" font-weight="bold" text-anchor="middle" fill="#000" >3 days</text>
<text transform="translate(617.3,832.75) scale(1,1.09)" font-size="11" font-weight="bold" text-anchor="middle" fill="#000" >21 days</text>
<text transform="translate(382.3,605) scale(1,1.0)" font-size="18" font-weight="bold" text-anchor="start" fill="#000" >F</text>
<text transform="translate(381.6,708.75) rotate(-90) scale(1,1.03)" font-size="12.3" font-weight="bold" text-anchor="middle" fill="#000">µmol min<tspan font-size="9" dy="-6.8">-1</tspan><tspan dy="6.8"> mg</tspan><tspan font-size="9" dy="-6.8">-1</tspan><tspan dy="6.8"> protein</tspan></text>
<rect x="284.5" y="855.4" width="14" height="6" fill="#ffffff" stroke="#000" stroke-width="2.8"/>
<rect x="284.5" y="874.4" width="14" height="5.8" fill="#d2d2d2" stroke="#000" stroke-width="2.8"/>
<rect x="391.7" y="855.3" width="14.3" height="5.5" fill="#808080" stroke="#000" stroke-width="2.8"/>
<rect x="391.7" y="874.5" width="14.3" height="6" fill="#343434" stroke="#000" stroke-width="2.8"/>
<text transform="translate(308.6,862.9) scale(1,1.08)" font-size="12.2" font-weight="normal" text-anchor="start" fill="#1a1a1a" stroke="#1a1a1a" stroke-width="0.25">Control</text>
<text transform="translate(308.6,880.1) scale(1,1.03)" font-size="12.7" font-weight="normal" text-anchor="start" fill="#1a1a1a" stroke="#1a1a1a" stroke-width="0.25">5% WAF<tspan font-size="9.9" dx="0.6" dy="3.1">OIL</tspan></text>
<text transform="translate(416.1,861.2) scale(1,1.03)" font-size="12.7" font-weight="normal" text-anchor="start" fill="#1a1a1a" stroke="#1a1a1a" stroke-width="0.25">25% WAF<tspan font-size="9.9" dx="0.6" dy="3.1">OIL</tspan></text>
<text transform="translate(416.1,880.4) scale(1,1.03)" font-size="12.7" font-weight="normal" text-anchor="start" fill="#1a1a1a" stroke="#1a1a1a" stroke-width="0.25">5% WAF<tspan font-size="9.9" dx="0.6" dy="3.1">OIL+D</tspan></text>
</svg>
</body>
</html>
